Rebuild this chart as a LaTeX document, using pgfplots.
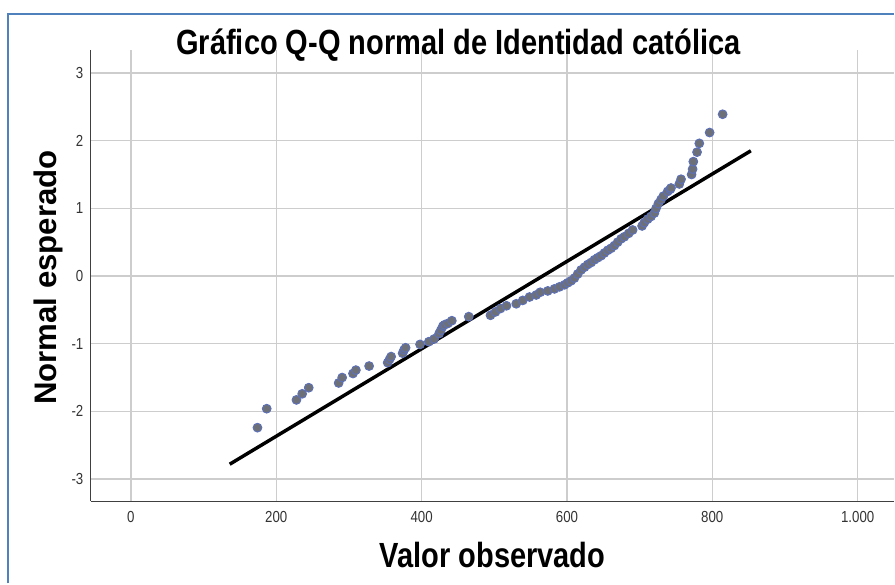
\documentclass[border=0pt]{standalone}
\usepackage{pgfplots}
\pgfplotsset{compat=1.18}
\usepackage{fontspec}
\setmainfont{Liberation Sans}
\newfontfamily\condfont[FakeStretch=0.83]{Liberation Sans}
\definecolor{frameblue}{RGB}{79,129,189}
\definecolor{gridgray}{RGB}{205,205,205}
\definecolor{ptfill}{RGB}{110,112,120}
\definecolor{ptedge}{RGB}{92,112,185}

% picture is 895 x 584 px, 1px = 0.75pt
\begin{document}
\begin{tikzpicture}
\path (0pt,0pt) rectangle (671.25pt,438pt);
\draw[frameblue, line width=1.5pt] (6pt,0pt) -- (6pt,427.5pt) -- (671.25pt,427.5pt);
\begin{axis}[
    at={(68.25pt,61.5pt)}, anchor=south west,
    scale only axis,
    width=603pt, height=339pt,
    xmin=-55, xmax=1050,
    ymin=-3.33, ymax=3.34,
    axis x line*=bottom, axis y line*=left,
    axis line style={black!75, line width=0.8pt, -},
    xtick={0,200,400,600,800,1000},
    xticklabels={0,200,400,600,800,1.000},
    ytick={-3,-2,-1,0,1,2,3},
    yticklabels={-3,-2,-1,0,1,2,3},
    major tick length=0pt,
    grid=major,
    major grid style={gridgray, line width=1.1pt},
    tick label style={font=\condfont\fontsize{12}{14}\selectfont, text=black!80},
    xticklabel style={inner sep=0pt, anchor=north, yshift=-7pt},
    yticklabel style={inner sep=0pt, anchor=east, xshift=-5.5pt},
    clip=false,
]
\addplot[black, line width=2.6pt] coordinates {(136,-2.78) (853,1.85)};
\addplot[only marks, mark=*, mark size=3.3pt,
    mark options={fill=ptfill, draw=ptedge, line width=0.7pt}]
    table {
x y
174.2 -2.24
186.9 -1.96
227.8 -1.83
235.7 -1.74
244.7 -1.65
285.9 -1.58
290.7 -1.50
305.6 -1.44
309.6 -1.39
327.8 -1.33
353.3 -1.28
356.0 -1.23
358.1 -1.19
373.9 -1.14
375.9 -1.09
378.0 -1.06
397.9 -1.01
410.0 -0.97
417.2 -0.93
424.1 -0.85
426.5 -0.80
429.3 -0.74
431.6 -0.72
436.2 -0.70
441.6 -0.66
464.9 -0.60
494.8 -0.58
501.7 -0.53
508.6 -0.48
516.8 -0.44
530.2 -0.41
539.2 -0.36
548.5 -0.31
557.7 -0.28
563.2 -0.24
573.6 -0.22
582.8 -0.19
589.7 -0.16
596.6 -0.13
601.1 -0.10
605.8 -0.07
610.3 -0.03
614.8 0.03
619.5 0.09
624.1 0.13
628.6 0.17
633.3 0.20
637.8 0.24
642.3 0.27
647.0 0.30
651.5 0.34
656.1 0.38
660.7 0.41
665.3 0.45
669.8 0.50
674.5 0.55
679.0 0.58
684.9 0.63
690.4 0.68
703.4 0.74
706.5 0.79
711.1 0.84
715.7 0.88
720.3 0.93
722.6 1.00
725.8 1.07
729.5 1.13
732.6 1.18
738.6 1.25
741.9 1.28
743.2 1.30
754.6 1.36
757.0 1.43
771.5 1.50
772.9 1.58
773.9 1.69
779.0 1.83
782.1 1.96
796.3 2.12
814.2 2.39
};
\end{axis}
\node[anchor=base, font=\condfont\bfseries\fontsize{26.25}{30}\selectfont] at (344.25pt,396.75pt) {Gráfico Q-Q normal de Identidad católica};
\node[anchor=base, font=\condfont\bfseries\fontsize{26.25}{30}\selectfont] at (369.75pt,12pt) {Valor observado};
\node[anchor=base, rotate=90, font=\bfseries\fontsize{23.4}{27}\selectfont] at (42.75pt,229.5pt) {Normal esperado};
\end{tikzpicture}
\end{document}
